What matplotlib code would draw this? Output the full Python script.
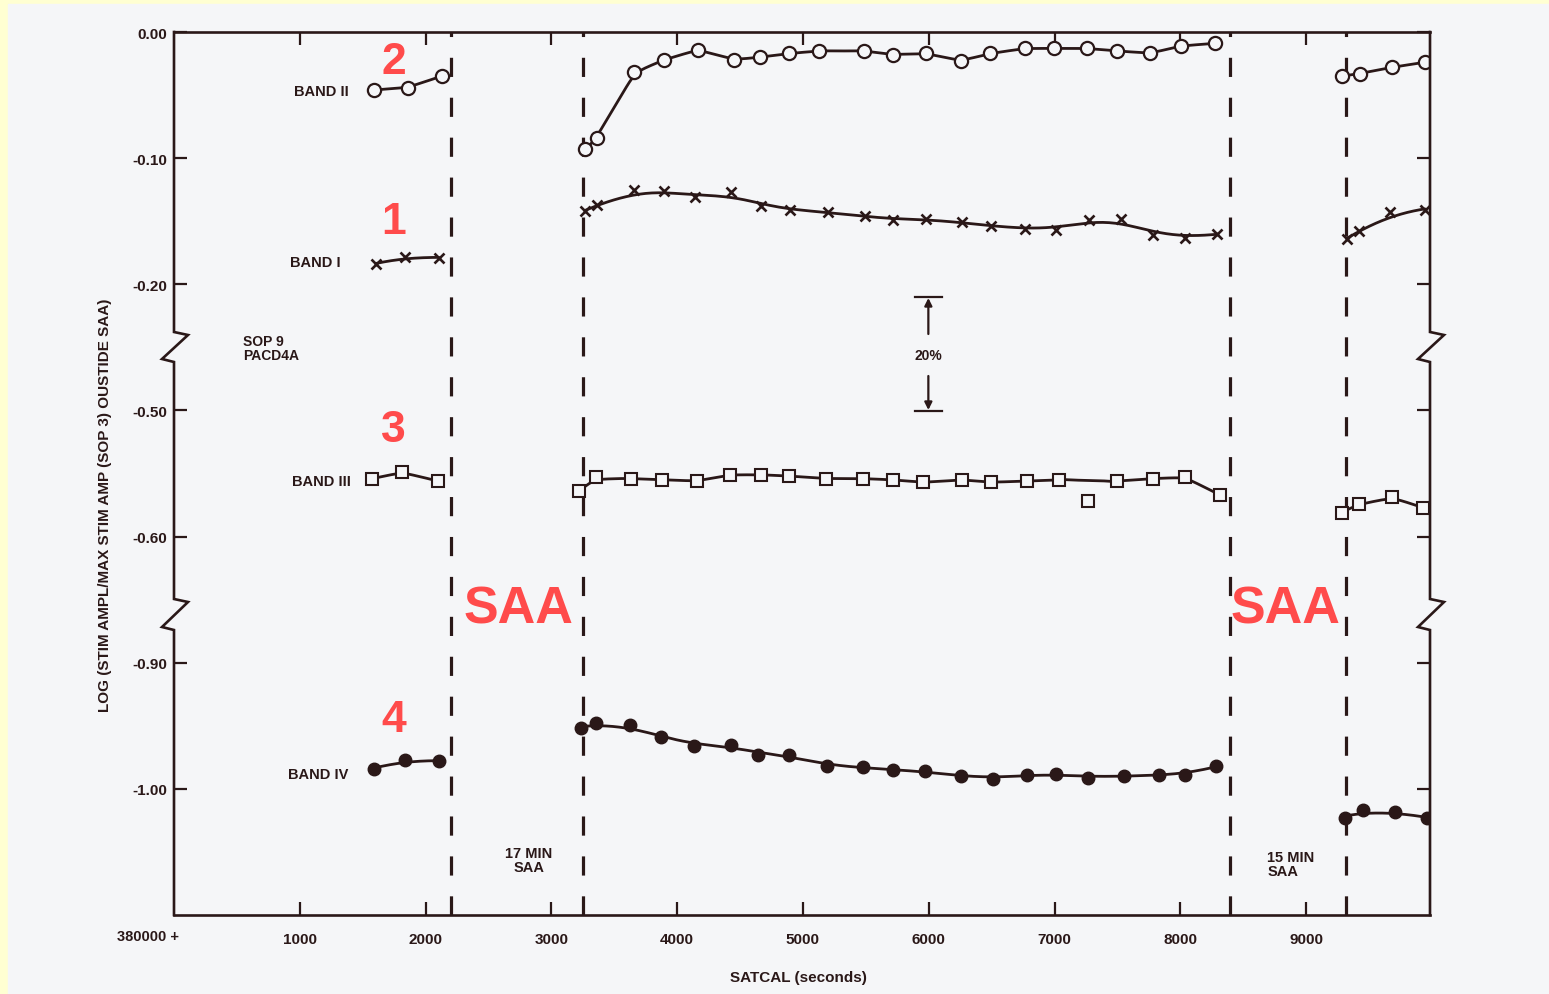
import numpy as np
import matplotlib.pyplot as plt
from matplotlib.patches import Rectangle
from matplotlib.transforms import blended_transform_factory

plt.rcParams['font.family'] = ['Liberation Sans', 'DejaVu Sans']
plt.rcParams['font.weight'] = 'bold'
plt.rcParams['axes.labelweight'] = 'bold'

INK = '#2a1818'
RED = '#ff4b4b'
PAPER = '#f5f6f8'
EDGE = '#ffffd2'

# Data_________________________________________________________________________
# SATCAL seconds (380000 +) and log amplitude ratio, three passes per band
band1_x = [[1604, 1834, 2104],
           [3269, 3364, 3659, 3897, 4144, 4428, 4669, 4900, 5202, 5493, 5716,
            5982, 6266, 6496, 6762, 7010, 7276, 7525, 7784, 8038, 8294],
           [9323, 9421, 9667, 9945]]
band1_y = [[-0.184, -0.178, -0.179],
           [-0.142, -0.137, -0.125, -0.126, -0.131, -0.127, -0.138, -0.141,
            -0.143, -0.146, -0.149, -0.148, -0.151, -0.154, -0.156, -0.157,
            -0.149, -0.148, -0.161, -0.163, -0.160],
           [-0.164, -0.158, -0.143, -0.141]]

band2_x = [[1588, 1857, 2128],
           [3269, 3364, 3659, 3897, 4166, 4450, 4659, 4890, 5130, 5485, 5716,
            5982, 6254, 6489, 6762, 6992, 7259, 7499, 7762, 8003, 8273],
           [9283, 9429, 9681, 9943]]
band2_y = [[-0.046, -0.044, -0.035],
           [-0.093, -0.084, -0.032, -0.022, -0.014, -0.022, -0.020, -0.017,
            -0.015, -0.015, -0.018, -0.017, -0.023, -0.017, -0.013, -0.013,
            -0.013, -0.015, -0.017, -0.011, -0.009],
           [-0.035, -0.033, -0.028, -0.024]]

band3_x = [[1578, 1816, 2099],
           [3223, 3357, 3630, 3882, 4155, 4421, 4669, 4890, 5184, 5474, 5716,
            5957, 6266, 6496, 6780, 7035, 7499, 7784, 8038, 8315],
           [9283, 9421, 9686, 9927]]
band3_y = [[-0.554, -0.549, -0.556],
           [-0.564, -0.553, -0.554, -0.555, -0.556, -0.551, -0.551, -0.552,
            -0.554, -0.554, -0.555, -0.557, -0.555, -0.557, -0.556, -0.555,
            -0.556, -0.554, -0.553, -0.567],
           [-0.581, -0.574, -0.569, -0.577]]
band3_odd_x = [7266]
band3_odd_y = [-0.572]

band4_x = [[1586, 1837, 2107],
           [3233, 3357, 3623, 3871, 4137, 4428, 4645, 4890, 5191, 5478, 5716,
            5971, 6254, 6513, 6780, 7010, 7269, 7552, 7833, 8038, 8287],
           [9310, 9455, 9707, 9959]]
band4_y = [[-0.984, -0.977, -0.978],
           [-0.952, -0.948, -0.949, -0.959, -0.966, -0.965, -0.973, -0.973,
            -0.982, -0.983, -0.985, -0.986, -0.990, -0.992, -0.989, -0.988,
            -0.991, -0.990, -0.989, -0.989, -0.982],
           [-1.023, -1.017, -1.018, -1.023]]

saa_edges = [2200, 3255, 8395, 9320]
xticks = [1000, 2000, 3000, 4000, 5000, 6000, 7000, 8000, 9000]
yticks = [0.0, -0.10, -0.20, -0.50, -0.60, -0.90, -1.00]
ytick_labels = ['0.00', '-0.10', '-0.20', '-0.50', '-0.60', '-0.90', '-1.00']

# broken y axis: each 0.1 step between shown ticks takes the same height
val_knots = [-10.0, -0.9, -0.6, -0.5, -0.2, 0.0, 10.0]
pos_knots = [-9.6, -0.5, -0.4, -0.3, -0.2, 0.0, 10.0]


# Functions____________________________________________________________________
def forward(v):
    return np.interp(v, val_knots, pos_knots)


def inverse(p):
    return np.interp(p, pos_knots, val_knots)


def smooth(xs, ys, bw, n=200):
    # hand drawn curve: local linear fit with gaussian weights
    xs = np.asarray(xs, float)
    ys = np.asarray(ys, float)
    grid = np.linspace(xs[0], xs[-1], n)
    out = np.empty_like(grid)
    for i, g in enumerate(grid):
        w = np.exp(-0.5*((xs - g)/bw)**2)
        mx = (w*xs).sum()/w.sum()
        my = (w*ys).sum()/w.sum()
        sxx = (w*(xs - mx)**2).sum()
        slope = (w*(xs - mx)*(ys - my)).sum()/sxx if sxx > 1e-9 else 0.0
        out[i] = my + slope*(g - mx)
    return grid, out


def fy(ypix):
    # picture row -> axes fraction (axes runs from row 33 to row 916)
    return (916 - ypix)/883.0


# Main_________________________________________________________________________
fig = plt.figure(figsize=(15.49, 9.95), dpi=100, facecolor=EDGE)
fig.patches.append(Rectangle((8/1549, 0), 1, 1 - 5/995, transform=fig.transFigure,
                             color=PAPER, zorder=-10))
ax = fig.add_axes([174/1549, 1 - 916/995, 1256/1549, 883/995])
ax.set_facecolor('none')
ax.set_yscale('function', functions=(forward, inverse))
ax.set_xlim(0, 9985)
ax.set_ylim(-1.1, 0.0)

bands = [
    (band2_x, band2_y, dict(marker='o', ms=9.5, mfc=PAPER, mew=1.6), 120),
    (band1_x, band1_y, dict(marker='x', ms=7, mew=1.9), 230),
    (band3_x, band3_y, dict(marker='s', ms=8.5, mfc=PAPER, mew=1.5), 120),
    (band4_x, band4_y, dict(marker='o', ms=9, mfc=INK, mew=1.0), 230),
]
for xs_all, ys_all, mk, bw in bands:
    for xs, ys in zip(xs_all, ys_all):
        gx, gy = smooth(xs, ys, bw)
        ax.plot(gx, gy, color=INK, lw=2.0, zorder=3, solid_capstyle='round')
        ax.plot(xs, ys, ls='none', color=INK, mec=INK, zorder=4, **mk)
ax.plot(band3_odd_x, band3_odd_y, ls='none', marker='s', ms=8.5, mfc=PAPER,
        mec=INK, mew=1.5, zorder=4)

for xe in saa_edges:
    ax.axvline(xe, color=INK, lw=2.3, dashes=(6, 6.5), zorder=2)

# axes frame with break marks
for s in ['left', 'right']:
    ax.spines[s].set_visible(False)
for s in ['top', 'bottom']:
    ax.spines[s].set_linewidth(1.9)
    ax.spines[s].set_color(INK)
dx_out, dx_in = 14/1256, 12/1256
breaks = [(333, 336, 360, 363), (600, 603, 628, 631)]
for x0 in [0.0, 1.0]:
    px, py = [x0], [1.0]
    for a, b, c, d in breaks:
        px += [x0, x0 + dx_out, x0 - dx_in, x0]
        py += [fy(a), fy(b), fy(c), fy(d)]
    px.append(x0)
    py.append(0.0)
    ax.plot(px, py, color=INK, lw=1.9, transform=ax.transAxes, clip_on=False,
            solid_joinstyle='miter', zorder=5)

ax.set_xticks(xticks)
ax.set_xticklabels([str(t) for t in xticks])
ax.set_yticks(yticks)
ax.set_yticklabels(ytick_labels)
ax.minorticks_off()
ax.tick_params(axis='both', direction='in', length=9.5, width=1.6, color=INK,
               labelcolor=INK, labelsize=11, top=True, right=True)
ax.tick_params(axis='x', pad=12)
ax.tick_params(axis='y', pad=5)

ax.set_ylabel('LOG (STIM AMPL/MAX STIM AMP (SOP 3) OUSTIDE SAA)', fontsize=11,
              color=INK, va='center')
ax.yaxis.set_label_coords(-0.0549, fy(505))
ax.set_xlabel('SATCAL (seconds)', fontsize=11, color=INK, va='center')
ax.xaxis.set_label_coords(0.4968, fy(978))
fig.text(148/1549, 1 - 937/995, '380000 +', fontsize=10.5, color=INK,
         ha='center', va='center')

# band names and notes
ax.text(1389, -0.047, 'BAND II', fontsize=10.5, color=INK, ha='right', va='center')
ax.text(1326, -0.1825, 'BAND I', fontsize=10.5, color=INK, ha='right', va='center')
ax.text(1405, -0.5556, 'BAND III', fontsize=10.5, color=INK, ha='right', va='center')
ax.text(1389, -0.988, 'BAND IV', fontsize=10.5, color=INK, ha='right', va='center')

bt = blended_transform_factory(ax.transData, ax.transAxes)
ax.text(550, fy(349), 'SOP 9\nPACD4A', fontsize=10, color=INK, ha='left',
        va='center', transform=bt, linespacing=1.0)
ax.text(2820, fy(861), '17 MIN\nSAA', fontsize=10.5, color=INK, ha='center',
        va='center', transform=bt, linespacing=1.05)
ax.text(8690, fy(865), '15 MIN\nSAA', fontsize=10.5, color=INK, ha='left',
        va='center', transform=bt, linespacing=1.05)

# 20% scale bar
ax.plot([5890, 6105], [fy(298), fy(298)], color=INK, lw=1.6, transform=bt)
ax.plot([5890, 6105], [fy(412), fy(412)], color=INK, lw=1.6, transform=bt)
arrow = dict(arrowstyle='-|>', color=INK, lw=1.6, mutation_scale=11,
             shrinkA=0, shrinkB=0)
ax.annotate('', xy=(5997, fy(299)), xytext=(5997, fy(335)), xycoords=bt,
            textcoords=bt, arrowprops=arrow)
ax.annotate('', xy=(5997, fy(411)), xytext=(5997, fy(377)), xycoords=bt,
            textcoords=bt, arrowprops=arrow)
ax.text(5997, fy(356), '20%', fontsize=10, color=INK, ha='center', va='center',
        transform=bt)

# red overlay labels
for lbl, yv in [('2', -0.023), ('1', -0.150), ('3', -0.515), ('4', -0.945)]:
    ax.text(1747, yv, lbl, fontsize=32, color=RED, ha='center', va='center',
            zorder=6)
for xs in [2740, 8835]:
    ax.text(xs, fy(610), 'SAA', fontsize=37.5, color=RED, ha='center',
            va='center', transform=bt, zorder=6)

fig.savefig('out.png', dpi=100, facecolor=EDGE)
